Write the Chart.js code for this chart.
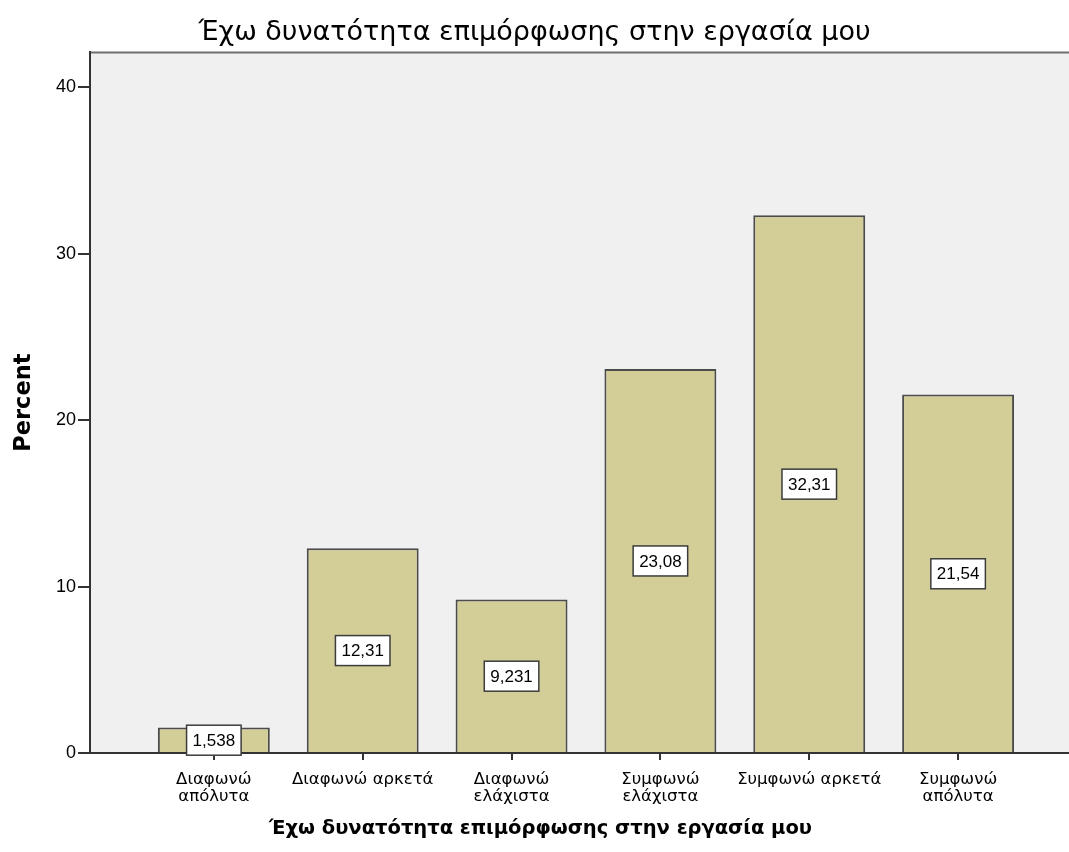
<!DOCTYPE html>
<html>
<head>
<meta charset="utf-8">
<script src="https://cdn.jsdelivr.net/npm/chart.js@4.4.1/dist/chart.umd.min.js"></script>
<style>
  html, body { margin: 0; padding: 0; background: #fff; }
  #wrap { width: 1069px; height: 852px; }
</style>
</head>
<body>
<div id="wrap"><canvas id="chart"></canvas></div>
<script>
// Έχω δυνατότητα επιμόρφωσης στην εργασία μου - ποσοστά απαντήσεων
var categories = [
    ['Διαφωνώ', 'απόλυτα'],
    'Διαφωνώ αρκετά',
    ['Διαφωνώ', 'ελάχιστα'],
    ['Συμφωνώ', 'ελάχιστα'],
    'Συμφωνώ αρκετά',
    ['Συμφωνώ', 'απόλυτα']
];
var percents = [1.538, 12.31, 9.231, 23.08, 32.31, 21.54];
var yTicks = [0, 10, 20, 30, 40];

var chartTitle = 'Έχω δυνατότητα επιμόρφωσης στην εργασία μου';
var FONT = '"DejaVu Sans", Verdana, sans-serif';
var LABEL_FONT = '"Liberation Sans", Arial, sans-serif';

function formatValue(v) {
    return v.toPrecision(4).replace('.', ',');
}

// γκρι φόντο, πάνω περίγραμμα και τίτλος του άξονα x (κεντραρισμένος στο σύνολο)
var plotBackground = {
    id: 'plotBackground',
    beforeDraw: function(chart) {
        var a = chart.chartArea, ctx = chart.ctx;
        ctx.save();
        ctx.fillStyle = '#f0f0f0';
        ctx.fillRect(a.left, a.top, a.right - a.left, a.bottom - a.top);
        ctx.strokeStyle = '#6e6e6e';
        ctx.lineWidth = 2;
        ctx.beginPath();
        ctx.moveTo(a.left, a.top);
        ctx.lineTo(a.right, a.top);
        ctx.stroke();

        ctx.fillStyle = '#000';
        ctx.font = 'bold 19.5px ' + FONT;
        ctx.textAlign = 'center';
        ctx.textBaseline = 'middle';
        ctx.fillText(chartTitle, chart.width / 2 + 6, chart.height - 23);
        ctx.restore();
    }
};

// ετικέτες τιμών σε λευκά πλαίσια στη μέση κάθε μπάρας
var valueBoxes = {
    id: 'valueBoxes',
    afterDatasetsDraw: function(chart) {
        var ctx = chart.ctx;
        var meta = chart.getDatasetMeta(0);
        var yScale = chart.scales.y;
        ctx.save();
        ctx.font = '17px ' + LABEL_FONT;
        ctx.textAlign = 'center';
        ctx.textBaseline = 'middle';
        meta.data.forEach(function(bar, i) {
            var v = percents[i];
            var txt = formatValue(v);
            var cx = bar.x;
            var cy = yScale.getPixelForValue(v / 2);
            var w = ctx.measureText(txt).width + 12;
            var h = 30;
            ctx.fillStyle = '#ffffff';
            ctx.fillRect(cx - w / 2, cy - h / 2, w, h);
            ctx.strokeStyle = '#3c3c3c';
            ctx.lineWidth = 1.5;
            ctx.strokeRect(cx - w / 2, cy - h / 2, w, h);
            ctx.fillStyle = '#000';
            ctx.fillText(txt, cx, cy + 1);
        });
        ctx.restore();
    }
};

var ctx = document.getElementById('chart');
new Chart(ctx, {
    type: 'bar',
    data: {
        datasets: [{
            label: 'Percent',
            data: percents.map(function(v, i) { return { x: i, y: v }; }),
            backgroundColor: '#d3ce97',
            borderColor: '#4b4b4b',
            borderWidth: 2,
            borderSkipped: 'bottom',
            barPercentage: 0.752,
            categoryPercentage: 1
        }]
    },
    options: {
        responsive: true,
        maintainAspectRatio: false,
        animation: false,
        layout: { padding: 0 },
        plugins: {
            legend: { display: false },
            tooltip: { enabled: false },
            title: {
                display: true,
                text: chartTitle,
                color: '#000',
                font: { family: FONT, size: 27, weight: 'normal', lineHeight: 1.2 },
                padding: { top: 17, bottom: 3 }
            }
        },
        scales: {
            x: {
                type: 'linear',
                offset: false,
                min: -0.832,
                max: 5.745,
                afterBuildTicks: function(scale) {
                    scale.ticks = categories.map(function(_, i) { return { value: i }; });
                },
                afterFit: function(scale) { scale.height = 99; },
                ticks: {
                    includeBounds: false,
                    autoSkip: false,
                    maxRotation: 0,
                    padding: 11,
                    color: '#000',
                    font: { family: FONT, size: 16.5, lineHeight: 1.03 },
                    callback: function(value) { return categories[value]; }
                },
                grid: {
                    offset: false,
                    drawOnChartArea: false,
                    drawTicks: true,
                    tickLength: 7,
                    color: '#333',
                    lineWidth: 2
                },
                border: { display: true, color: '#333', width: 2 },
                title: { display: false }
            },
            y: {
                min: 0,
                max: 42.1,
                afterFit: function(scale) { scale.width = 90; },
                afterBuildTicks: function(scale) {
                    scale.ticks = yTicks.map(function(v) { return { value: v }; });
                },
                ticks: {
                    includeBounds: false,
                    padding: 2,
                    color: '#000',
                    font: { family: LABEL_FONT, size: 18 }
                },
                grid: {
                    drawOnChartArea: false,
                    drawTicks: true,
                    tickLength: 12,
                    color: '#333',
                    lineWidth: 2
                },
                border: { display: true, color: '#333', width: 2 },
                title: {
                    display: true,
                    text: 'Percent',
                    color: '#000',
                    font: { family: FONT, size: 22.5, weight: 'bold', lineHeight: 1.2 },
                    padding: { top: 11, bottom: 0 }
                }
            }
        }
    },
    plugins: [plotBackground, valueBoxes]
});
</script>
</body>
</html>
